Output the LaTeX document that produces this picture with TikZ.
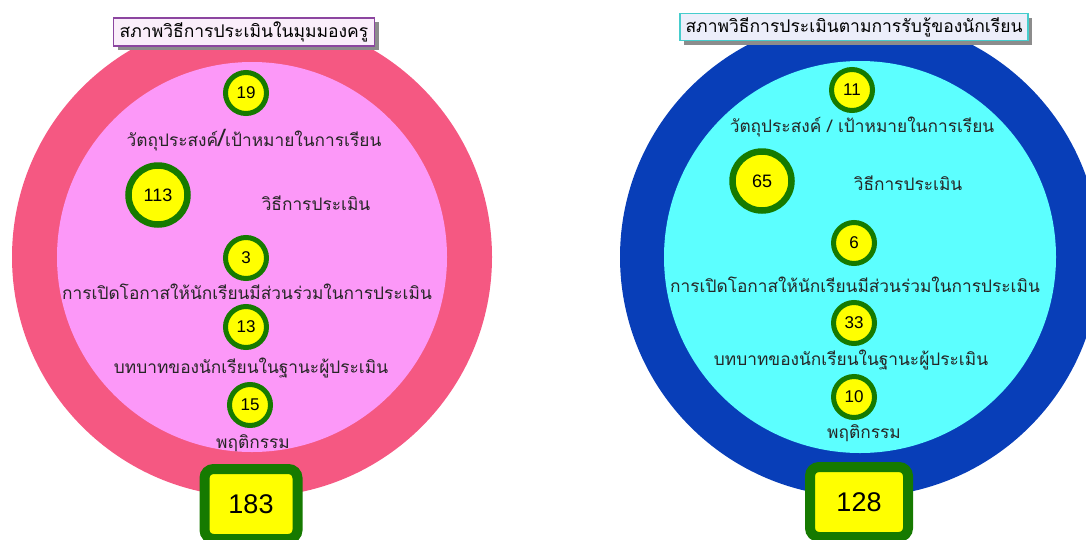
\documentclass[tikz,border=0pt]{standalone}
\usepackage{fontspec}
\newfontfamily\thaifont[Script=Thai]{Loma}
\newfontfamily\numfont{Liberation Sans}
\usetikzlibrary{shadows}
\definecolor{rimpink}{RGB}{245,88,130}
\definecolor{fillpink}{RGB}{252,152,248}
\definecolor{rimblue}{RGB}{8,62,184}
\definecolor{fillcyan}{RGB}{92,255,255}
\definecolor{ringgreen}{RGB}{22,122,0}
\definecolor{dotyellow}{RGB}{255,255,0}
\definecolor{headpurple}{RGB}{140,70,160}
\definecolor{headcyan}{RGB}{70,205,205}
\definecolor{headfillA}{RGB}{250,238,250}
\definecolor{headfillB}{RGB}{236,238,250}

\begin{document}
\begin{tikzpicture}[x=1pt,y=-1pt,
  every node/.style={inner sep=0pt},
  lbl/.style={font=\thaifont\fontsize{17.3}{19}\selectfont, text=black!85},
  num/.style={circle, draw=ringgreen, fill=dotyellow, line width=5pt,
    minimum size=41pt, font=\numfont\fontsize{17}{19}\selectfont},
  bignum/.style={num, line width=6.5pt, minimum size=59pt,
    font=\numfont\fontsize{18}{20}\selectfont},
  sumbox/.style={draw=ringgreen, fill=dotyellow, line width=10pt,
    rounded corners=9pt, minimum height=70pt,
    font=\numfont\fontsize{27}{29}\selectfont},
  headbox/.style={font=\thaifont\fontsize{17.5}{19}\selectfont, line width=1.5pt, text=black,
    drop shadow={shadow xshift=4pt, shadow yshift=-4pt, fill=black!45, opacity=1}}
]
\useasboundingbox (0,0) rectangle (1086,539);

% teacher view
\fill [rimpink] (252,257) circle [radius=240pt];
\fill [fillpink] (252,257) circle [radius=195pt];
\node [headbox, draw=headpurple, fill=headfillA, minimum width=261pt, minimum height=28pt]
  (lHead) at (244,32) {สภาพวิธีการประเมินในมุมมองครู};
\node [num] (l19) at (246,93) {19};
\node [lbl] (lObj) at (254,140) {วัตถุประสงค์{\fontsize{24}{24}\selectfont/}เป้าหมายในการเรียน};
\node [bignum] (l113) at (158,195) {113};
\node [lbl] (lMeth) at (316,203) {วิธีการประเมิน};
\node [num] (l3) at (246,258) {3};
\node [lbl] (lPart) at (247,292) {การเปิดโอกาสให้นักเรียนมีส่วนร่วมในการประเมิน};
\node [num] (l13) at (246,327) {13};
\node [lbl] (lRole) at (251,368) {บทบาทของนักเรียนในฐานะผู้ประเมิน};
\node [num] (l15) at (250,405) {15};
\node [lbl] (lBeh) at (253,443) {พฤติกรรม};
\node [sumbox, minimum width=93pt] (lSum) at (251,504) {183};

% student view
\fill [rimblue] (860,257) circle [radius=240pt];
\fill [fillcyan] (860,257) circle [radius=196pt];
\node [headbox, draw=headcyan, fill=headfillB, minimum width=348pt, minimum height=27pt]
  (rHead) at (854,27) {สภาพวิธีการประเมินตามการรับรู้ของนักเรียน};
\node [num] (r11) at (852,90) {11};
\node [lbl] (rObj) at (862,127) {วัตถุประสงค์ / เป้าหมายในการเรียน};
\node [bignum] (r65) at (762,181) {65};
\node [lbl] (rMeth) at (908,183) {วิธีการประเมิน};
\node [num] (r6) at (854,243) {6};
\node [lbl] (rPart) at (855,285) {การเปิดโอกาสให้นักเรียนมีส่วนร่วมในการประเมิน};
\node [num] (r33) at (854,323) {33};
\node [lbl] (rRole) at (851,360) {บทบาทของนักเรียนในฐานะผู้ประเมิน};
\node [num] (r10) at (854,397) {10};
\node [lbl] (rBeh) at (864,433) {พฤติกรรม};
\node [sumbox, minimum width=98pt] (rSum) at (859,502) {128};
\end{tikzpicture}
\end{document}
